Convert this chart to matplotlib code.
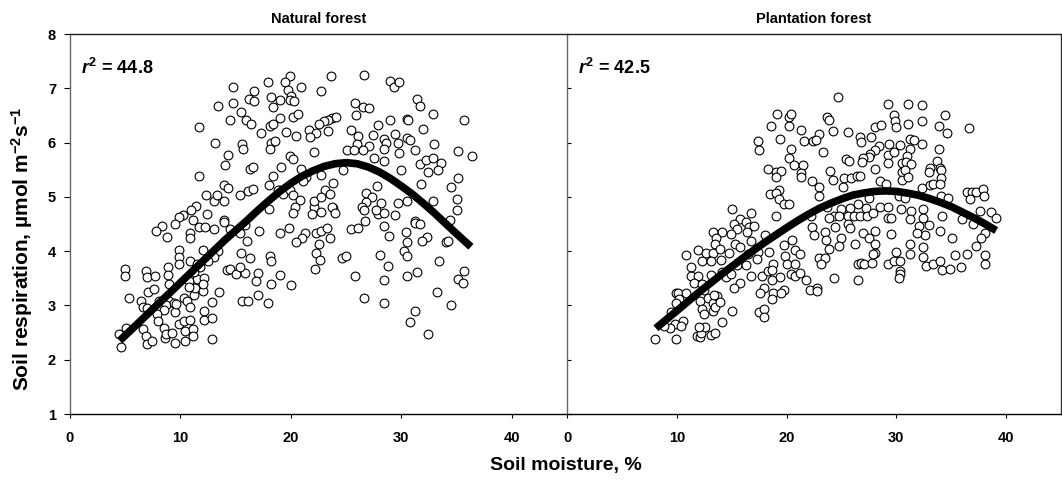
import matplotlib.pyplot as plt

# ---- data (soil moisture %, soil respiration) ----
nat_x = [14.8, 16.7, 17.9, 19.9, 19.5, 19.7, 20.0, 20.9, 16.2, 16.7, 18.2, 19.0, 18.4, 19.9, 20.3,
         13.4, 14.8, 15.5, 15.9, 16.4, 14.5, 17.3, 18.1, 18.4, 19.0, 20.2, 20.6,
         11.7, 13.1, 15.6, 15.7, 14.3, 14.0, 16.3, 16.6, 18.2, 18.1, 18.6, 19.6, 20.5,
         19.9, 20.2, 20.9, 18.4, 19.1, 19.0,
         11.7, 12.3, 13.0, 13.3, 13.9, 13.9, 14.3, 15.4, 16.1, 16.6, 18.0, 18.8, 19.3, 19.9, 20.2,
         20.8, 20.4, 20.2, 18.0, 22.1, 11.4, 11.0, 10.2, 9.9, 12.4, 13.9,
         23.6, 26.6, 22.7, 29.0, 29.3, 29.8, 31.4, 31.7, 25.8, 26.5, 27.1, 25.9, 32.9, 35.7, 29.0,
         30.5, 30.6, 27.9, 32.0, 23.7, 24.1, 23.4, 23.0, 22.5, 21.6, 22.3, 23.4, 21.7, 25.4, 26.1,
         27.4, 28.4, 29.4, 30.5, 30.8, 28.6, 29.7, 26.0, 27.1, 25.1, 25.7, 26.5, 28.4, 29.8, 31.2,
         33.0, 35.1, 36.4, 22.1, 27.5, 28.4, 31.7, 32.2, 32.9, 33.6, 33.3, 32.4, 30.0, 24.7, 22.7,
         21.4, 21.1, 27.8, 31.8, 34.5, 35.1, 23.1, 23.8, 23.5, 26.8, 27.3, 26.8, 26.4, 28.2, 29.7,
         30.5, 32.9, 35.0, 35.0, 22.1, 22.7, 23.8, 23.7, 21.9, 22.7, 27.9, 28.4, 29.4, 26.6, 31.2,
         24.0, 27.7,
         21.3, 22.3, 22.7, 23.3, 23.5, 21.0, 22.5, 22.3, 22.6, 22.2, 25.4, 26.1, 26.7, 28.4, 28.9,
         28.1, 28.8, 24.6, 25.0, 25.8, 28.4, 26.6, 28.4, 30.4, 30.5, 30.2, 30.5, 31.2, 31.7, 32.3,
         31.9, 34.0, 34.2, 33.4, 31.4, 30.5, 35.7, 35.1, 35.6, 33.2, 34.5, 31.2, 30.8, 32.4, 34.4,
         9.5, 8.3, 7.8, 8.8, 11.1, 11.7, 12.2, 13.0, 13.9, 10.9, 10.9, 14.5, 15.4, 15.8, 16.0, 17.1,
         15.5, 16.3, 13.4, 13.0, 12.4, 12.0, 9.9, 9.9, 9.9, 10.9, 8.9, 8.9, 9.0, 6.9, 7.0, 7.7,
         5.0, 5.0, 7.1, 7.6, 5.3, 6.4, 6.6, 7.0, 8.1, 9.0, 8.7, 8.5, 9.4, 9.5, 10.3, 10.6, 10.9,
         11.2, 11.3, 12.0, 11.5, 12.1, 11.8, 11.5, 12.5, 11.2, 10.8, 12.0, 10.8, 13.5, 12.9, 12.1,
         12.1, 12.9, 12.9, 14.2, 14.5, 15.0, 15.8, 15.4, 17.0, 16.8, 18.2, 19.0, 20.0, 17.0, 15.6,
         16.1, 17.9, 18.1, 18.2, 19.0, 19.8, 20.5, 7.9, 8.0, 8.5, 8.6, 8.7, 9.2, 9.5, 9.9, 10.3,
         10.4, 10.4, 10.9, 11.1, 11.1, 6.6, 6.9, 7.0, 7.4, 4.4, 5.1, 4.6, 9.6]
nat_y = [7.02, 6.95, 7.12, 7.22, 7.12, 6.97, 6.86, 7.02, 6.81, 6.77, 6.84, 6.78, 6.65, 6.79, 6.77,
         6.67, 6.73, 6.57, 6.41, 6.35, 6.42, 6.18, 6.30, 6.34, 6.46, 6.47, 6.53,
         6.28, 5.99, 5.97, 5.89, 5.78, 5.59, 5.52, 5.55, 5.99, 5.89, 6.03, 6.20, 6.13,
         5.76, 5.70, 5.52, 5.39, 5.55, 5.12,
         5.38, 5.04, 4.93, 5.04, 4.93, 5.22, 5.17, 5.03, 5.11, 5.15, 5.21, 5.12, 5.06, 5.12, 5.03,
         4.95, 4.81, 4.70, 4.77, 4.81, 4.84, 4.76, 4.66, 4.62, 4.69, 4.58,
         7.22, 7.24, 6.95, 7.14, 7.03, 7.11, 6.81, 6.68, 6.72, 6.66, 6.63, 6.50, 6.52, 6.42, 6.42,
         6.44, 6.41, 6.33, 6.25, 6.46, 6.47, 6.41, 6.39, 6.35, 6.24, 6.17, 6.21, 6.10, 6.23, 6.12,
         6.14, 6.07, 6.15, 6.09, 6.05, 5.99, 5.99, 5.97, 5.93, 5.86, 5.87, 5.86, 5.89, 5.80, 5.86,
         5.98, 5.84, 5.75, 5.82, 5.72, 5.66, 5.60, 5.68, 5.72, 5.62, 5.50, 5.46, 5.50, 5.50, 5.40,
         5.36, 5.30, 5.20, 5.24, 5.19, 5.35, 5.13, 5.25, 5.06, 5.07, 5.00, 4.90, 4.82, 4.88, 4.88,
         4.93, 4.93, 4.96, 4.75, 4.93, 4.99, 4.80, 4.81, 4.69, 4.72, 4.69, 4.70, 4.67, 4.75, 4.56,
         4.71, 4.76,
         4.33, 4.34, 4.38, 4.42, 4.25, 4.24, 4.13, 3.97, 3.83, 3.68, 4.41, 4.42, 4.55, 4.46, 4.28,
         3.93, 3.72, 3.87, 3.91, 3.55, 3.46, 3.14, 3.04, 4.36, 4.16, 4.01, 3.91, 4.51, 4.50, 4.26,
         4.18, 4.17, 4.18, 3.81, 3.61, 3.55, 3.63, 3.48, 3.41, 3.24, 3.00, 2.90, 2.70, 2.47, 4.57,
         4.50, 4.47, 4.38, 4.26, 4.57, 4.45, 4.44, 4.41, 4.53, 4.33, 4.24, 4.41, 4.34, 4.49, 4.18, 4.38,
         3.97, 3.88, 4.01, 3.90, 3.83, 4.02, 4.02, 3.89, 3.76, 3.82, 3.71, 3.56, 3.40, 3.64, 3.53, 3.54,
         3.67, 3.54, 3.25, 3.30, 3.13, 3.08, 2.97, 2.96, 3.09, 3.09, 3.01, 2.91, 3.05, 2.87, 3.14, 3.08, 2.97,
         3.20, 3.32, 3.27, 3.48, 3.51, 3.70, 3.76, 3.82, 3.61, 3.45, 3.39, 3.34, 3.25, 3.07, 2.90,
         2.74, 2.76, 2.39, 3.65, 3.67, 3.57, 3.59, 3.71, 3.59, 3.45, 3.40, 3.56, 3.38, 3.20, 3.09,
         3.09, 3.05, 3.91, 3.82, 4.34, 4.42, 4.16, 2.84, 2.72, 2.59, 2.40, 2.47, 2.50, 2.31, 2.65, 2.71,
         2.53, 2.34, 2.74, 2.56, 2.43, 2.56, 2.43, 2.29, 2.34, 2.48, 2.58, 2.23, 3.02]

plant_x = [19.1, 20.2, 20.4, 18.6, 20.2, 21.3, 19.4, 21.6, 22.4, 17.4, 17.5, 20.4, 20.2, 20.7, 21.5,
           21.3, 21.3, 18.3, 19.0, 19.5, 19.0, 22.3, 19.3, 18.5, 19.0, 19.3, 19.8, 20.2, 19.0, 15.0,
           16.8, 15.8, 15.2, 16.3, 16.6, 17.0, 15.5, 14.9, 16.4, 14.1, 13.3, 13.6, 13.5, 15.3, 15.8,
           16.8, 18.0, 22.2, 22.3, 22.5, 20.5, 19.8, 20.8, 21.2, 18.4, 19.9, 11.9, 12.7, 10.8, 13.3,
           13.9, 14.8, 16.5, 17.4,
           12.3, 13.1, 14.0, 17.3, 11.3, 11.3, 11.9, 13.1, 11.6, 12.3, 14.1, 14.5, 14.9, 15.5, 16.3,
           15.8, 15.2, 16.8, 17.8, 18.3, 18.8, 18.7, 19.4, 20.0, 20.8, 20.4, 20.8, 21.2, 21.8, 22.1,
           18.7, 17.9, 17.6, 18.8, 18.7, 19.8, 19.5, 17.5, 17.9, 17.9, 15.0, 14.1, 9.9, 10.1, 10.8,
           10.2, 9.9, 9.5, 10.6, 9.8, 10.4, 9.4, 8.8, 8.0, 9.9, 11.8, 12.1, 12.2, 12.6, 13.1, 13.5,
           12.0, 12.1, 12.3, 12.5, 12.8, 13.3, 13.3, 13.5, 13.7, 13.9, 12.5, 13.4,
           24.7, 29.2, 31.1, 32.3, 34.4, 29.8, 29.9, 30.0, 31.1, 32.3, 33.9, 34.6, 36.6, 23.7, 23.9,
           24.2, 23.0, 25.6, 27.7, 28.1, 28.6, 26.7, 26.8, 22.7, 23.3, 31.2, 31.6, 32.3, 29.3, 30.3,
           28.4, 28.1, 27.6, 27.5, 27.0, 29.2, 29.8, 31.2, 31.0, 33.9, 25.4, 25.7, 26.9, 29.2, 28.1,
           30.5, 30.9, 31.3, 30.5, 30.8, 33.7, 33.1, 33.0, 34.0, 34.1, 34.1, 24.0, 24.2, 25.2, 25.9,
           26.4, 26.7, 23.0, 25.1, 28.5, 29.1, 30.5, 31.1, 32.3, 33.1, 33.3, 34.0, 36.4, 36.9, 37.3,
           37.9, 38.0, 36.7, 23.0, 27.5, 30.2, 30.8, 34.1, 34.7, 32.4, 31.3, 28.5, 29.2, 30.4, 27.2,
           26.5, 25.8, 25.0, 24.3, 23.7, 23.9, 24.8, 25.6, 26.1, 26.7, 27.3, 27.9, 29.2, 29.5, 31.2,
           32.4, 32.1, 33.0, 32.6, 31.9, 34.2, 36.0, 37.0, 37.6, 38.6, 39.1, 38.1, 37.7, 37.3, 35.1,
           34.0, 23.5, 23.6, 24.4, 25.0, 25.6, 25.8, 27.0, 27.5, 28.1, 28.1, 29.5, 26.2, 24.8, 23.9,
           28.1, 30.0, 31.2, 31.2, 32.4, 32.4, 35.3, 36.4, 38.1,
           23.0, 23.5, 23.1, 22.8, 22.8, 24.3, 26.5, 26.8, 27.1, 27.8, 27.9, 26.5, 29.2, 29.8, 30.3,
           30.3, 30.3, 30.2, 32.7, 33.3, 34.0, 34.2, 34.9, 35.9, 38.1]
plant_y = [6.52, 6.48, 6.53, 6.30, 6.30, 6.23, 6.07, 6.03, 6.03, 6.03, 5.86, 5.89, 5.72, 5.58, 5.58,
           5.44, 5.36, 5.52, 5.46, 5.47, 5.36, 5.29, 5.13, 5.06, 5.07, 4.96, 4.86, 4.87, 4.65, 4.78,
           4.71, 4.59, 4.50, 4.53, 4.44, 4.47, 4.41, 4.32, 4.35, 4.35, 4.35, 4.24, 4.14, 4.13, 4.08,
           4.19, 4.30, 4.65, 4.44, 4.30, 4.20, 4.12, 4.02, 3.95, 3.98, 3.91, 4.02, 3.96, 3.93, 3.96,
           4.04, 3.96, 3.95, 3.98,
           3.82, 3.82, 3.83, 3.85, 3.71, 3.54, 3.54, 3.56, 3.42, 3.40, 3.62, 3.52, 3.57, 3.75, 3.75,
           3.42, 3.33, 3.54, 3.54, 3.64, 3.77, 3.65, 3.52, 3.77, 3.76, 3.57, 3.54, 3.60, 3.46, 3.28,
           3.46, 3.33, 3.23, 3.23, 3.11, 3.28, 3.23, 2.88, 2.93, 2.79, 2.90, 2.70, 3.23, 3.23, 3.22,
           3.11, 3.05, 2.87, 2.71, 2.65, 2.62, 2.58, 2.62, 2.38, 2.39, 2.43, 2.42, 2.50, 2.60, 2.46, 2.50,
           2.60, 3.08, 2.93, 2.85, 3.13, 3.05, 2.90, 2.97, 3.17, 3.07, 3.28, 3.20,
           6.84, 6.71, 6.71, 6.69, 6.50, 6.50, 6.40, 6.29, 6.35, 6.40, 6.30, 6.18, 6.26, 6.47, 6.41,
           6.21, 6.16, 6.19, 6.10, 6.29, 6.32, 6.10, 6.01, 6.04, 5.83, 6.07, 6.04, 5.97, 5.97, 5.95,
           5.93, 5.86, 5.79, 5.73, 5.72, 5.78, 5.83, 5.89, 5.75, 5.89, 5.70, 5.66, 5.64, 5.62, 5.52,
           5.62, 5.64, 5.60, 5.46, 5.49, 5.66, 5.54, 5.46, 5.54, 5.50, 5.35, 5.47, 5.31, 5.35, 5.35,
           5.39, 5.38, 5.19, 5.19, 5.30, 5.23, 5.31, 5.36, 5.17, 5.21, 5.24, 5.24, 5.09, 5.09, 5.09,
           5.15, 5.01, 4.96, 5.01, 4.98, 5.02, 4.98, 5.02, 4.98, 4.78, 4.74, 4.81, 4.82, 4.78, 4.80,
           4.86, 4.80, 4.78, 4.65, 4.81, 4.61, 4.64, 4.65, 4.65, 4.65, 4.64, 4.70, 4.61, 4.61, 4.59,
           4.61, 4.47, 4.49, 4.30, 4.33, 4.65, 4.59, 4.50, 4.74, 4.72, 4.61, 4.33, 4.24, 4.10, 4.25,
           4.38, 4.35, 4.21, 4.45, 4.25, 4.50, 4.43, 4.33, 4.25, 4.38, 4.14, 4.32, 4.14, 4.10, 4.04,
           3.96, 3.99, 4.13, 3.95, 4.07, 3.90, 3.92, 3.95, 3.92,
           3.87, 3.88, 3.77, 3.33, 3.27, 3.50, 3.76, 3.79, 3.77, 3.79, 3.94, 3.46, 3.77, 3.81, 3.82,
           3.64, 3.57, 3.51, 3.73, 3.77, 3.82, 3.65, 3.68, 3.70, 3.77]

# fitted curves, points
nat_fit_x = [4.5, 6, 8, 10, 12, 14, 16, 17, 18, 19, 20, 21, 22, 23, 24, 25, 26, 27, 28,
             29, 30, 31, 32, 33, 34, 35, 36.3]
nat_fit_y = [2.35, 2.64, 3.03, 3.42, 3.81, 4.2, 4.56, 4.75, 4.93, 5.1, 5.25, 5.38, 5.48, 5.56, 5.61,
             5.63, 5.61, 5.55, 5.46, 5.34, 5.2, 5.05, 4.88, 4.7, 4.51, 4.32, 4.08]
plant_fit_x = [8.1, 10, 12, 14, 16, 18, 20, 21, 22, 23, 24, 25, 26, 27, 28, 29, 30, 31, 32,
               33, 34, 35, 36, 37, 38, 39.1]
plant_fit_y = [2.58, 2.9, 3.24, 3.56, 3.87, 4.16, 4.43, 4.56, 4.68, 4.79, 4.88, 4.96, 5.03, 5.07,
               5.1, 5.11, 5.1, 5.07, 5.03, 4.97, 4.9, 4.82, 4.72, 4.62, 4.51, 4.38]

titles = ['Natural forest', 'Plantation forest']
r2_labels = ['44.8', '42.5']

plt.rcParams['font.family'] = ['Liberation Sans', 'DejaVu Sans']
plt.rcParams['font.weight'] = 'bold'
plt.rcParams['mathtext.fontset'] = 'custom'
plt.rcParams['mathtext.rm'] = 'Liberation Sans:bold'
plt.rcParams['mathtext.it'] = 'Liberation Sans:italic:bold'
plt.rcParams['mathtext.bf'] = 'Liberation Sans:bold'

fig = plt.figure(figsize=(10.62, 4.87), dpi=100)
ax1 = fig.add_axes([70 / 1062, 73 / 487, 497 / 1062, 380 / 487])
ax2 = fig.add_axes([567 / 1062, 73 / 487, 494 / 1062, 380 / 487])

panels = [(ax1, nat_x, nat_y, nat_fit_x, nat_fit_y),
          (ax2, plant_x, plant_y, plant_fit_x, plant_fit_y)]

for i, (ax, xs, ys, fx, fy) in enumerate(panels):
    ax.scatter(xs, ys, s=40, facecolors='white', edgecolors='black', linewidths=0.8, zorder=2)
    ax.plot(fx, fy, color='black', linewidth=5.5, solid_capstyle='butt',
            solid_joinstyle='round', zorder=3)
    ax.set_xlim(0, 45)
    ax.set_ylim(1, 8)
    ax.set_xticks([0, 10, 20, 30, 40])
    ax.set_yticks(range(1, 9))
    ax.tick_params(axis='x', direction='out', length=3, width=0.8, pad=9, labelsize=10.5)
    for s in ax.spines.values():
        s.set_linewidth(1.0)
    ax.spines['left'].set_color('#666666')
    ax.spines['right'].set_color('#333333')
    ax.spines['top'].set_color('#222222')
    ax.set_title(titles[i], fontsize=10.5, fontweight='bold', pad=8)
    ax.text(0.022, 0.91, r'$r^2$ = ' + r2_labels[i], transform=ax.transAxes,
            fontsize=13, fontweight='bold', va='center', ha='left')

ax1.tick_params(axis='y', direction='out', length=4, width=0.8, pad=6, labelsize=10.5)
ax1.spines['right'].set_visible(False)
ax2.tick_params(axis='y', direction='in', length=3, width=0.8, labelleft=False)

fig.text(0.021, 0.49, r'Soil respiration, µmol m$^{-2}$s$^{-1}$', rotation=90,
         fontsize=15, fontweight='bold', ha='center', va='center')
fig.text(0.533, 0.045, 'Soil moisture, %', fontsize=14, fontweight='bold',
         ha='center', va='center')

plt.savefig('out.png', dpi=100)
